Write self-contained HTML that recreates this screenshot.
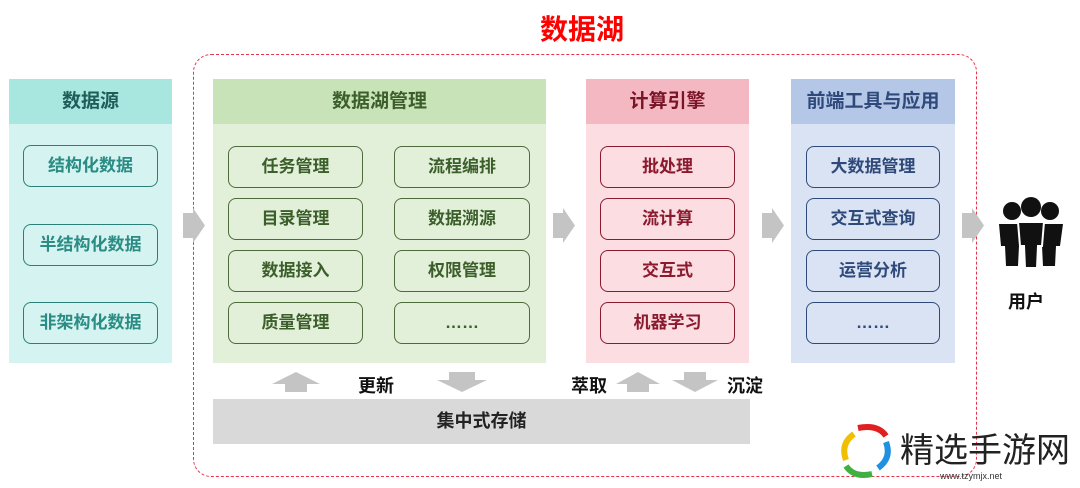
<!DOCTYPE html><html><head><meta charset="utf-8"><style>
body{margin:0;width:1080px;height:488px;background:#fff;position:relative;overflow:hidden;font-family:"Liberation Sans","Noto Sans CJK SC",sans-serif;font-weight:bold}
.a{position:absolute}
.hd{position:absolute;left:0;right:0;top:0;height:45px;line-height:45px;text-align:center;font-size:19px}
.b{position:absolute;border:1.5px solid;border-radius:8px;text-align:center;line-height:39px;font-size:17px;box-sizing:border-box;height:42px}
.ar{position:absolute;width:0;height:0}
</style></head><body>
<div class="a" style="left:540px;top:8px;font-size:28px;color:#f00">数据湖</div>
<div class="a" style="left:193px;top:54px;width:784px;height:423px;border:1.5px dashed #e8334a;border-radius:18px;box-sizing:border-box"></div>

<div class="a" style="left:9px;top:79px;width:163px;height:284px;background:#d5f3f0">
<div class="hd" style="background:#a8e6e0;color:#1f5e58">数据源</div></div>
<div class="b" style="left:23px;top:145px;width:135px;border-color:#2a8078;color:#2a8c84">结构化数据</div>
<div class="b" style="left:23px;top:224px;width:135px;border-color:#2a8078;color:#2a8c84">半结构化数据</div>
<div class="b" style="left:23px;top:302px;width:135px;border-color:#2a8078;color:#2a8c84">非架构化数据</div>

<div class="a" style="left:213px;top:79px;width:333px;height:284px;background:#e2f0d9">
<div class="hd" style="background:#c8e3b8;color:#3b5e2b">数据湖管理</div></div>
<div class="b" style="left:228px;top:146px;width:135px;border-color:#4e6b3c;color:#3b5e2b">任务管理</div>
<div class="b" style="left:394px;top:146px;width:136px;border-color:#4e6b3c;color:#3b5e2b">流程编排</div>
<div class="b" style="left:228px;top:198px;width:135px;border-color:#4e6b3c;color:#3b5e2b">目录管理</div>
<div class="b" style="left:394px;top:198px;width:136px;border-color:#4e6b3c;color:#3b5e2b">数据溯源</div>
<div class="b" style="left:228px;top:250px;width:135px;border-color:#4e6b3c;color:#3b5e2b">数据接入</div>
<div class="b" style="left:394px;top:250px;width:136px;border-color:#4e6b3c;color:#3b5e2b">权限管理</div>
<div class="b" style="left:228px;top:302px;width:135px;border-color:#4e6b3c;color:#3b5e2b">质量管理</div>
<div class="b" style="left:394px;top:302px;width:136px;border-color:#4e6b3c;color:#3b5e2b">……</div>

<div class="a" style="left:586px;top:79px;width:163px;height:284px;background:#fbdde2">
<div class="hd" style="background:#f4b8c2;color:#7a1428">计算引擎</div></div>
<div class="b" style="left:600px;top:146px;width:135px;border-color:#8b1a2e;color:#8b1a2e">批处理</div>
<div class="b" style="left:600px;top:198px;width:135px;border-color:#8b1a2e;color:#8b1a2e">流计算</div>
<div class="b" style="left:600px;top:250px;width:135px;border-color:#8b1a2e;color:#8b1a2e">交互式</div>
<div class="b" style="left:600px;top:302px;width:135px;border-color:#8b1a2e;color:#8b1a2e">机器学习</div>

<div class="a" style="left:791px;top:79px;width:164px;height:284px;background:#dae3f3">
<div class="hd" style="background:#b4c7e7;color:#2f4a7a">前端工具与应用</div></div>
<div class="b" style="left:806px;top:146px;width:134px;border-color:#2f4a7a;color:#2f4a7a">大数据管理</div>
<div class="b" style="left:806px;top:198px;width:134px;border-color:#2f4a7a;color:#2f4a7a">交互式查询</div>
<div class="b" style="left:806px;top:250px;width:134px;border-color:#2f4a7a;color:#2f4a7a">运营分析</div>
<div class="b" style="left:806px;top:302px;width:134px;border-color:#2f4a7a;color:#2f4a7a">……</div>

<svg class="a" style="left:0;top:0" width="1080" height="488">
<g fill="#c4c4c4">
<path d="M183 213h10v-5l12 17.5-12 17.5v-5h-10z"/>
<path d="M553 213h10v-5l12 17.5-12 17.5v-5h-10z"/>
<path d="M762 213h10v-5l12 17.5-12 17.5v-5h-10z"/>
<path d="M962 213h10v-5l12 17.5-12 17.5v-5h-10z"/>
<path d="M272 384l24-12 24 12h-13v8h-22v-8z"/>
<path d="M449 372h26v8h12l-25 12-25-12h12z"/>
<path d="M616 384l22-12 22 12h-11v8h-22v-8z"/>
<path d="M684 372h22v8h12l-23 12-23-12h12z"/>
</g>
<g fill="#111">
<circle cx="1012" cy="211" r="9"/><circle cx="1031" cy="207" r="10"/><circle cx="1050" cy="211" r="9"/>
<path d="M999 224h26l-2 22h-4l-1 20h-12l-1-20h-4z"/>
<path d="M1037 224h26l-3 22h-4l-1 20h-12l-1-20h-4z"/>
<path d="M1018 222h26l-2 24h-4l-1 22h-12l-1-22h-4z" stroke="#fff" stroke-width="2"/>
</g>
</svg>
<div class="a" style="left:358px;top:372px;font-size:18px;color:#111">更新</div>
<div class="a" style="left:571px;top:372px;font-size:18px;color:#111">萃取</div>
<div class="a" style="left:727px;top:372px;font-size:18px;color:#111">沉淀</div>
<div class="a" style="left:213px;top:399px;width:537px;height:45px;background:#d9d9d9;text-align:center;line-height:45px;font-size:18px;color:#222">集中式存储</div>
<div class="a" style="left:1008px;top:288px;font-size:18px;color:#111">用户</div>
<div class="a" style="left:900px;top:423px;font-size:34px;font-weight:normal;color:#222">精选手游网</div>
<div class="a" style="left:940px;top:471px;font-size:9px;font-weight:normal;color:#333">www.tzymjx.net</div>
<svg class="a" style="left:838px;top:420px" width="60" height="62"><g fill="none" stroke-width="6"><path d="M20 8q20-4 28 8" stroke="#e02020"/><path d="M48 22q6 16-8 26" stroke="#2090e0"/><path d="M34 54q-18 4-26-8" stroke="#40b040"/><path d="M8 40q-6-16 8-26" stroke="#f0c000"/></g></svg>
</body></html>
